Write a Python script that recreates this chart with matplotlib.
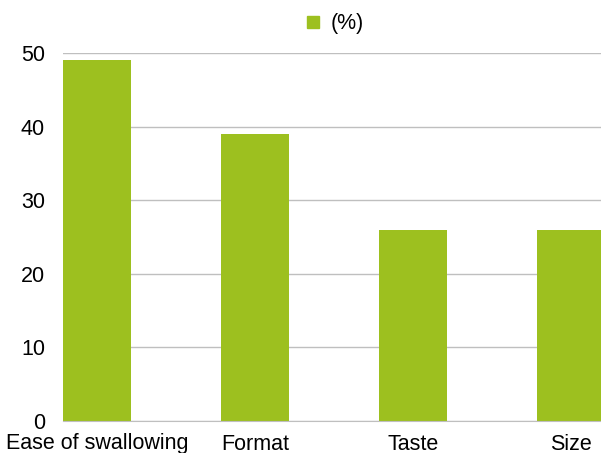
import matplotlib
matplotlib.use('Agg')
from matplotlib import pyplot as plt
from matplotlib.lines import Line2D

categories = ['Ease of swallowing', 'Format', 'Taste', 'Size']
percent = [49, 39, 26, 26]
y_ticks = [0, 10, 20, 30, 40, 50]

bar_color = '#9dc01f'
grid_color = '#bfbfbf'

plt.rcParams['font.family'] = ['Liberation Sans', 'DejaVu Sans']

fig = plt.figure(figsize=(6.01, 4.53), dpi=100)
ax = fig.add_axes([63 / 601, 32 / 453, 1 - 63 / 601, 368 / 453])

xs = list(range(len(categories)))
ax.bar(xs, percent, width=0.43, color=bar_color, zorder=3)

ax.set_xlim(-0.215, 3.19)
ax.set_ylim(0, 50)
ax.set_yticks(y_ticks)
ax.set_xticks(xs)
ax.set_xticklabels(categories)

# horizontal grid only, no tick marks
ax.yaxis.grid(True, color=grid_color, linewidth=1.0, zorder=0)
ax.tick_params(axis='both', length=0, labelsize=15.5, colors='black')
ax.tick_params(axis='y', pad=13)
ax.tick_params(axis='x', pad=9)
for side in ['top', 'right', 'left']:
    ax.spines[side].set_visible(False)
ax.spines['bottom'].set_color(grid_color)
ax.spines['bottom'].set_zorder(4)

handle = Line2D([], [], marker='s', linestyle='none', markersize=8,
                markerfacecolor=bar_color, markeredgecolor=bar_color)
fig.legend([handle], ['(%)'], loc='center', bbox_to_anchor=(333 / 601, 1 - 24 / 453),
           frameon=False, fontsize=15.5, handletextpad=0.3, handlelength=1.0)

plt.savefig('out.png', dpi=100)
